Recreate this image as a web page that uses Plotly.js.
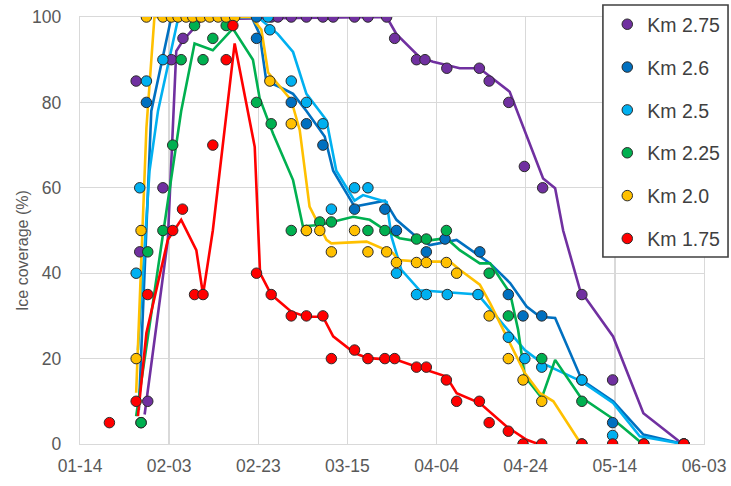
<!DOCTYPE html>
<html>
<head>
<meta charset="utf-8">
<script src="https://cdn.plot.ly/plotly-3.0.1.min.js"></script>
<style>html,body{margin:0;padding:0;background:#fff;}#chart{width:731px;height:486px;}</style>
</head>
<body>
<div id="chart"></div>
<script>
// x values are days since 01-14
const tickVals = [0, 20, 40, 60, 80, 100, 120, 140];
const tickText = ['01-14', '02-03', '02-23', '03-15', '04-04', '04-24', '05-14', '06-03'];
const seriesNames = ['Km 2.75', 'Km 2.6', 'Km 2.5', 'Km 2.25', 'Km 2.0', 'Km 1.75'];
const seriesColors = ['#7030A0', '#0070C0', '#00B0F0', '#00B050', '#FFC000', '#FF0000'];

// Km 2.75 observations
const km275Day = [12.6, 13.4, 13.7, 15.2, 18.6, 20.5, 23.1, 42.9, 44.4, 47.4, 50.8, 54.5, 56.8, 61.6, 64.6, 68.8, 70.6, 75.5, 77.4, 82.3, 89.6, 91.8, 96.2, 99.7, 103.8, 112.6, 119.5, 135.5];
const km275Val = [85, 45, 5, 10, 60, 90, 95, 100, 100, 100, 100, 100, 100, 100, 100, 100, 95, 90, 90, 88, 88, 85, 80, 65, 60, 35, 15, 0];
// Km 2.75 smoothed line
const km275LineDay = [14.5, 19.7, 21.6, 23.1, 27.4, 68.8, 71, 76.2, 79.2, 85.2, 89.6, 96.4, 103.9, 106.6, 108.4, 112.2, 119.6, 126.4, 135.2];
const km275LineVal = [6.9, 47.8, 92, 94.5, 99.5, 100, 96, 90.6, 89.5, 88, 88, 82.5, 62.2, 59.9, 50, 36, 25.2, 7.2, 0];

// Km 2.6
const km26Day = [14.9, 39.6, 39.6, 47.4, 50.8, 54.5, 61.6, 68.4, 71, 77.7, 81.9, 89.7, 96.1, 99.4, 103.6, 112.6, 119.5, 135.5];
const km26Val = [80, 100, 95, 80, 75, 70, 55, 55, 50, 45, 48, 45, 35, 30, 30, 15, 5, 0];
const km26LineDay = [13.2, 16, 20.5, 38.5, 40.3, 41.8, 44.8, 47.8, 50.8, 54.9, 56.8, 61.6, 68.4, 71, 75.5, 78.5, 84.5, 92, 96.5, 100.2, 103.2, 106.6, 112.6, 119.6, 126.4, 135.4];
const km26LineVal = [8, 78, 100, 100, 96, 85, 83.6, 82, 78, 72, 64, 55.6, 57, 52.5, 48.5, 46.6, 47.8, 42.3, 37.7, 32.2, 29.8, 29.5, 15, 10, 2.2, 0];

// Km 2.5
const km25Day = [12.6, 13.4, 14.9, 18.6, 42.2, 42.6, 47.4, 50.8, 54.5, 56.4, 61.6, 64.6, 71, 75.5, 77.7, 82.4, 89.3, 96.1, 99.8, 103.6, 112.6, 119.5, 135.5];
const km25Val = [40, 60, 85, 90, 100, 97, 85, 80, 75, 55, 60, 60, 40, 35, 35, 35, 35, 25, 20, 18, 15, 2, 0];
const km25LineDay = [13, 15.6, 17.5, 22, 39.9, 44.4, 47.8, 50.8, 55.3, 57.5, 61.6, 63.5, 68.8, 69.9, 72.1, 76.2, 89.3, 96.5, 99.8, 103.6, 112.6, 119.6, 125.6, 135.4];
const km25LineVal = [22, 64, 78, 99.6, 100, 96, 91.8, 82, 75.8, 64, 57, 58.3, 56.7, 48.5, 40.8, 36, 35, 26, 22, 19, 14.6, 9.6, 1.8, 0];

// Km 2.25
const km225Day = [13.7, 15.2, 18.6, 20.8, 22.7, 25.7, 27.6, 29.8, 32.8, 39.6, 42.9, 47.4, 50.8, 53.8, 56.4, 64.6, 68.4, 75.5, 77.7, 82.2, 91.8, 96.1, 103.6, 112.6, 126.5];
const km225Val = [5, 45, 50, 70, 90, 98, 90, 95, 98, 80, 75, 50, 50, 52, 52, 50, 50, 48, 48, 50, 40, 30, 20, 10, 0];
const km225LineDay = [12.6, 20.8, 22.7, 25.7, 29.8, 34.3, 38.8, 40.3, 43.3, 47.8, 50, 53.8, 61.3, 65, 67.3, 71.7, 76.2, 82.2, 85.2, 89.7, 92, 96.5, 98.3, 99.8, 103.6, 106.6, 112.2, 119.3, 125.6];
const km225LineVal = [6.5, 64, 78, 93.8, 92.2, 97.3, 90, 81, 72.7, 61.8, 51, 51.3, 53.2, 52.5, 50.9, 48.2, 47.4, 48.2, 45.4, 42.3, 42.3, 35.3, 26.7, 15.8, 10.8, 19.7, 11.1, 6.1, 0.6];

// Km 2.0
const km20Day = [12.6, 13.7, 14.9, 18.6, 20.5, 22, 23.8, 25.3, 27.2, 29.1, 31, 32.8, 34.7, 42.6, 47.4, 50.8, 53.8, 56.4, 61.6, 64.6, 68.8, 71, 75.5, 77.7, 82.2, 84.5, 91.8, 96.1, 99.4, 103.6, 112.6];
const km20Val = [20, 50, 100, 100, 100, 100, 100, 100, 100, 100, 100, 100, 100, 85, 75, 50, 50, 45, 50, 45, 45, 42.5, 42.5, 42.5, 42.5, 40, 30, 20, 15, 10, 0];
const km20LineDay = [12.6, 14.5, 14.9, 16.7, 38.4, 40.7, 42.2, 45.2, 47.4, 49.3, 51.5, 55.3, 56.4, 64.3, 70.2, 71.4, 76.2, 83, 85.2, 89.7, 92, 95.7, 99.8, 103.2, 106.2, 111.8];
const km20LineVal = [12, 64, 74, 100, 100, 97, 87, 83.3, 80.5, 73.5, 55.6, 47.8, 47, 47.4, 44.7, 43.1, 42.7, 42.7, 40.8, 37.3, 33, 25.2, 16.6, 11.9, 10, 1];

// Km 1.75
const km175Day = [6.6, 12.6, 15.2, 20.8, 23, 25.7, 27.6, 29.8, 32.8, 34.3, 39.6, 42.9, 47.4, 50.8, 54.5, 56.4, 61.6, 64.6, 68.4, 70.6, 75.5, 77.7, 82.2, 84.5, 89.6, 91.8, 96.1, 99.4, 103.6, 112.6, 119.5, 126.5, 135.5];
const km175Val = [5, 10, 35, 50, 55, 35, 35, 70, 90, 98, 40, 35, 30, 30, 30, 20, 22, 20, 20, 20, 18, 18, 15, 10, 10, 5, 3, 0, 0, 0, 0, 0, 0];
const km175LineDay = [13, 14.9, 19.7, 22.7, 26.1, 27.6, 29.8, 34.7, 39.2, 40.4, 42.9, 47.4, 50.8, 54.5, 56.8, 61.6, 64.6, 71, 75.5, 82.2, 84.5, 89.7, 95.7, 100.2, 102.8];
const km175LineVal = [6.5, 26, 47.8, 52.5, 45.4, 35, 50, 93.8, 69.6, 40, 35, 31, 29.8, 29.8, 25.2, 21.3, 20.1, 19.7, 18.1, 15.8, 11.9, 9.6, 4.1, 1, 0];

const markerDays = [km275Day, km26Day, km25Day, km225Day, km20Day, km175Day];
const markerVals = [km275Val, km26Val, km25Val, km225Val, km20Val, km175Val];
const lineDays = [km275LineDay, km26LineDay, km25LineDay, km225LineDay, km20LineDay, km175LineDay];
const lineVals = [km275LineVal, km26LineVal, km25LineVal, km225LineVal, km20LineVal, km175LineVal];

const traces = [];
for (let i = 0; i < seriesNames.length; i++) {
  traces.push({
    type: 'scatter', mode: 'lines', x: lineDays[i], y: lineVals[i],
    line: {color: seriesColors[i], width: 2.6}, showlegend: false, hoverinfo: 'skip'
  });
}
for (let i = 0; i < seriesNames.length; i++) {
  traces.push({
    type: 'scatter', mode: 'markers', name: seriesNames[i], legendgroup: 'g' + i,
    x: markerDays[i], y: markerVals[i],
    marker: {color: seriesColors[i], size: 10.5, line: {color: '#2b2b2b', width: 1}}
  });
}

const layout = {
  width: 731, height: 486,
  margin: {l: 80, r: 27, t: 17, b: 42, autoexpand: false},
  paper_bgcolor: '#ffffff', plot_bgcolor: '#ffffff',
  font: {family: 'Liberation Sans, Arial, sans-serif', color: '#595959', size: 17},
  xaxis: {
    range: [0, 140], tickmode: 'array', tickvals: tickVals, ticktext: tickText,
    showgrid: true, gridcolor: '#d9d9d9', gridwidth: 1.3, zeroline: false,
    showline: true, linecolor: '#d9d9d9', linewidth: 1.3, mirror: true,
    ticks: '', ticklabelstandoff: 6, tickfont: {size: 17.5, color: '#595959'}
  },
  yaxis: {
    range: [0, 100], tickvals: [0, 20, 40, 60, 80, 100],
    showgrid: true, gridcolor: '#d9d9d9', gridwidth: 1.3, zeroline: false,
    showline: true, linecolor: '#d9d9d9', linewidth: 1.3, mirror: true,
    ticks: '', ticklabelstandoff: 14, tickfont: {size: 17.5, color: '#595959'}
  },
  showlegend: true,
  legend: {
    x: 0.845, y: 1.028, xanchor: 'left', yanchor: 'top',
    bgcolor: 'rgba(0,0,0,0)', borderwidth: 0,
    font: {size: 19.5, color: '#404040'}, traceorder: 'grouped', tracegroupgap: 14.5,
    itemwidth: 30
  },
  shapes: [{
    type: 'rect', xref: 'paper', yref: 'paper', layer: 'above',
    x0: 0.838, x1: 1.0385, y0: 0.438, y1: 1.028,
    fillcolor: '#ffffff', line: {color: '#404040', width: 1.6}
  }],
  annotations: [{
    text: 'Ice coverage (%)', xref: 'paper', yref: 'paper', x: -0.093, y: 0.454,
    xanchor: 'center', yanchor: 'middle', textangle: -90, showarrow: false,
    font: {size: 16, color: '#595959'}
  }]
};

Plotly.newPlot('chart', traces, layout, {displayModeBar: false, staticPlot: true});
</script>
</body>
</html>
